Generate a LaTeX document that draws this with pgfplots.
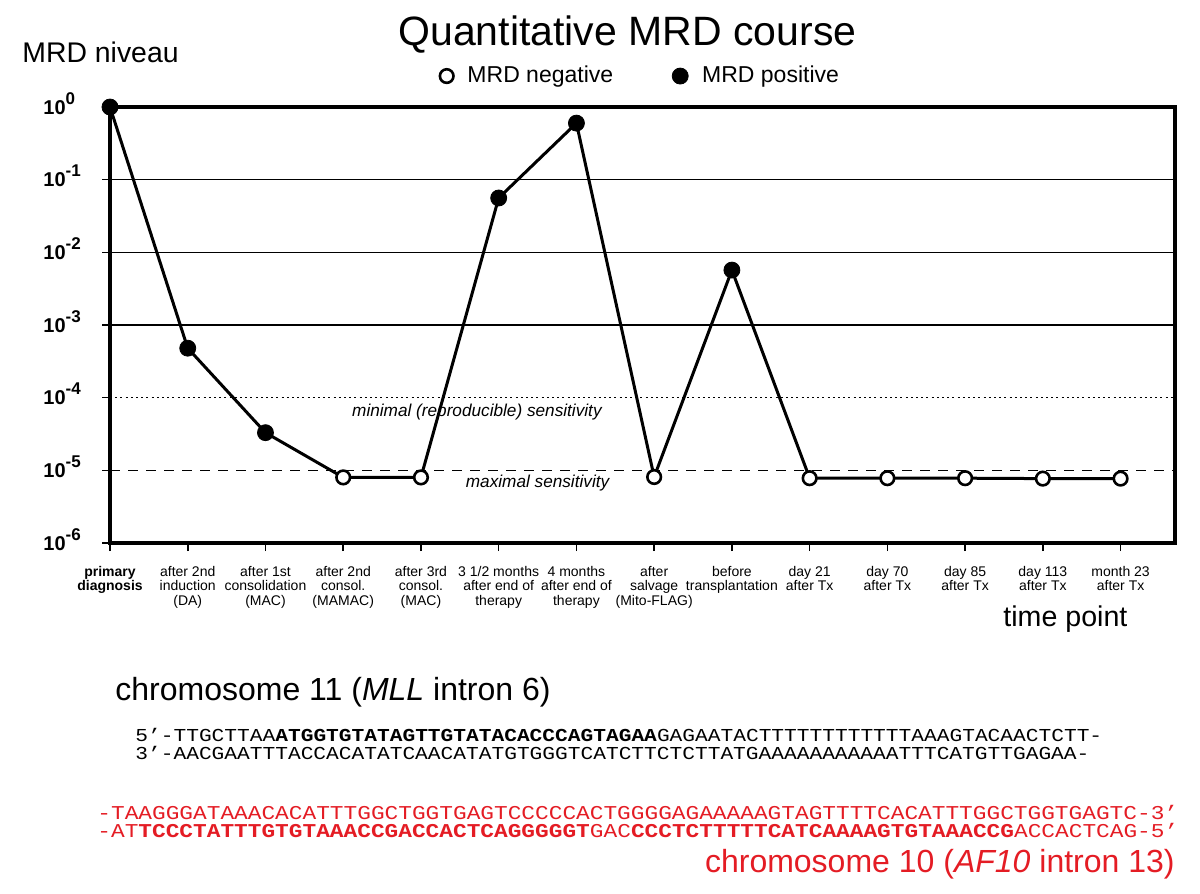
\documentclass[border=0pt]{standalone}
\usepackage{pgfplots}
\pgfplotsset{compat=1.18}
\usepackage{graphicx}
\usepackage{fontspec}
\setmainfont{Liberation Sans}
\newfontfamily\seqfont{Liberation Mono}
\definecolor{seqred}{RGB}{228,28,36}
\newcommand{\ylab}[1]{\textbf{10}\raisebox{5pt}{\fontsize{8.5}{8.5}\selectfont\bfseries #1}}
% Courier-like sequence line (Liberation Mono caps are taller, so squeeze a bit)
\newcommand{\seq}[1]{\scalebox{1}[0.86]{#1}}

\begin{document}
\begin{tikzpicture}
\path (0,0) rectangle (600pt,-447pt);
\begin{axis}[
  at={(55pt,-271.5pt)}, anchor=south west,
  width=532.5pt, height=218pt, scale only axis,
  xmin=0, xmax=13.7, ymode=log, ymin=1e-6, ymax=1,
  clip=false,
  axis line style={line width=2.2pt},
  tick pos=left, tick align=outside,
  major tick length=4pt,
  xtick={0,...,13},
  xtick style={line width=0.8pt,black},
  ytick={1e-6,1e-5,1e-4,1e-3,1e-2,1e-1,1},
  ytick style={line width=0.8pt,black},
  yminorticks=false,
  yticklabels={\ylab{-6},\ylab{-5},\ylab{-4},\ylab{-3},\ylab{-2},\ylab{-1},\ylab{0}},
  yticklabel style={anchor=base west, inner sep=0pt, yshift=-3.6pt, xshift=-29.5pt, font=\fontsize{10}{10}\selectfont},
  xticklabels={
    {\textbf{primary}\\\textbf{diagnosis}},
    {after 2nd\\induction\\(DA)},
    {after 1st\\consolidation\\(MAC)},
    {after 2nd\\consol.\\(MAMAC)},
    {after 3rd\\consol.\\(MAC)},
    {3 1/2 months\\after end of\\therapy},
    {4 months\\after end of\\therapy},
    {after\\salvage\\(Mito-FLAG)},
    {before\\transplantation},
    {day 21\\after Tx},
    {day 70\\after Tx},
    {day 85\\after Tx},
    {day 113\\after Tx},
    {month 23\\after Tx}},
  xticklabel style={align=center, font=\fontsize{7}{7.3}\selectfont, yshift=-4pt},
  legend columns=2,
  legend style={at={(0.499,1.071)}, anchor=center, draw=none, fill=none,
    font=\fontsize{11.5}{12}\selectfont,
    /tikz/every odd column/.append style={column sep=5pt},
    /tikz/every even column/.append style={column sep=27.5pt}},
]
% reference levels
\addplot[black, line width=0.6pt, forget plot] coordinates {(0,1e-1) (13.7,1e-1)};
\addplot[black, line width=0.6pt, forget plot] coordinates {(0,1e-2) (13.7,1e-2)};
\addplot[black, line width=0.6pt, forget plot] coordinates {(0,1e-3) (13.7,1e-3)};
\addplot[black, line width=0.6pt, dash pattern=on 1pt off 1.6pt, forget plot] coordinates {(0,1e-4) (13.7,1e-4)};
\addplot[black, line width=0.6pt, dash pattern=on 5pt off 4pt, forget plot] coordinates {(0,1e-5) (13.7,1e-5)};
\node[font=\fontsize{8.6}{9}\selectfont\itshape] at (axis cs:4.72,6.35e-5) {minimal (reproducible) sensitivity};
\node[font=\fontsize{8.6}{9}\selectfont\itshape] at (axis cs:5.5,6.7e-6) {maximal sensitivity};
% MRD course
\addplot[black, line width=1.5pt, forget plot] coordinates {
(0,1) (1,4.8e-4) (2,3.3e-5) (3,8.0e-6) (4,8.0e-6) (5,0.056) (6,0.60)
(7,8.1e-6) (8,5.7e-3) (9,7.8e-6) (10,7.8e-6) (11,7.8e-6) (12,7.7e-6) (13,7.7e-6)
};
\addplot[only marks, mark=*, mark size=3.4pt, mark options={fill=white, draw=black, line width=1.3pt}] coordinates {
(3,8.0e-6) (4,8.0e-6) (7,8.1e-6) (9,7.8e-6) (10,7.8e-6) (11,7.8e-6) (12,7.7e-6) (13,7.7e-6)
};
\addlegendentry{MRD negative}
\addplot[only marks, mark=*, mark size=4pt, mark options={fill=black, draw=black}] coordinates {
(0,1) (1,4.8e-4) (2,3.3e-5) (5,0.056) (6,0.60) (8,5.7e-3)
};
\addlegendentry{MRD positive}
\end{axis}
% titles
\node[anchor=base, font=\fontsize{20.5}{22}\selectfont, inner sep=0] at (313.75pt,-22.5pt) {Quantitative MRD course};
\node[anchor=base west, font=\fontsize{14.2}{15}\selectfont, inner sep=0] at (11pt,-31pt) {MRD niveau};
\node[anchor=base west, font=\fontsize{14.3}{15}\selectfont, inner sep=0] at (501.5pt,-313pt) {time point};
% sequences
\node[anchor=base west, font=\fontsize{16}{17}\selectfont, inner sep=0] at (57.5pt,-350pt) {chromosome 11 (\textit{MLL} intron 6)};
\node[anchor=base west, font=\seqfont\fontsize{10.6}{10.6}\selectfont, inner sep=0] at (67.5pt,-370.5pt)
  {\seq{5’-TTGCTTAA\textbf{ATGGTGTATAGTTGTATACACCCAGTAGAA}GAGAATACTTTTTTTTTTTTAAAGTACAACTCTT-}};
\node[anchor=base west, font=\seqfont\fontsize{10.6}{10.6}\selectfont, inner sep=0] at (67.5pt,-379.5pt)
  {\seq{3’-AACGAATTTACCACATATCAACATATGTGGGTCATCTTCTCTTATGAAAAAAAAAAATTTCATGTTGAGAA-}};
\node[anchor=base west, text=seqred, font=\seqfont\fontsize{11.4}{11.4}\selectfont, inner sep=0] at (48.5pt,-409.5pt)
  {\seq{-TAAGGGATAAACACATTTGGCTGGTGAGTCCCCCACTGGGGAGAAAAAGTAGTTTTCACATTTGGCTGGTGAGTC-3’}};
\node[anchor=base west, text=seqred, font=\seqfont\fontsize{11.4}{11.4}\selectfont, inner sep=0] at (48.5pt,-418.5pt)
  {\seq{-AT\textbf{TCCCTATTTGTGTAAACCGACCACTCAGGGGGT}GAC\textbf{CCCTCTTTTTCATCAAAAGTGTAAACCG}ACCACTCAG-5’}};
\node[anchor=base east, text=seqred, font=\fontsize{16}{17}\selectfont, inner sep=0] at (587.5pt,-436pt) {chromosome 10 (\textit{AF10} intron 13)};
\end{tikzpicture}
\end{document}
